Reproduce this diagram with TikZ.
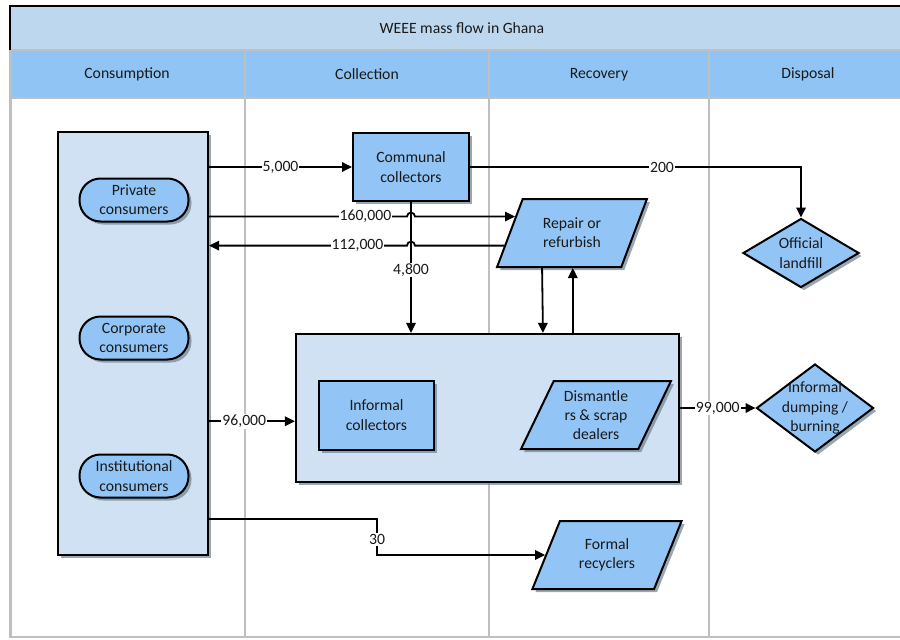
\documentclass[tikz,border=0pt]{standalone}
\usepackage{fontspec}
\setmainfont{Carlito}
\usetikzlibrary{arrows.meta,shapes.geometric,shadows,calc}
\definecolor{titlefill}{RGB}{189,215,238}
\definecolor{headfill}{RGB}{143,196,244}
\definecolor{grpfill}{RGB}{207,225,242}
\definecolor{nodefill}{RGB}{146,197,245}
\definecolor{lanegray}{RGB}{191,191,191}
\definecolor{shadowc}{RGB}{110,130,145}
\definecolor{ink}{RGB}{25,25,25}

\begin{document}
\begin{tikzpicture}[x=1pt,y=-1pt,
  every node/.style={font=\fontsize{15.7}{19.3}\selectfont, text=ink},
  lane/.style={draw=lanegray, line width=2pt},
  dshadow/.style={drop shadow={shadow xshift=3pt,shadow yshift=-3pt,fill=shadowc,opacity=.7}},
  grp/.style={rectangle, draw=black, line width=2.2pt, fill=grpfill, dshadow, inner sep=0pt},
  proc/.style={rectangle, draw=black, line width=2pt, fill=nodefill, dshadow,
    minimum width=116pt, minimum height=68pt, align=center, inner sep=0pt},
  pill/.style={rectangle, rounded corners=21pt, draw=black, line width=2pt, fill=nodefill, dshadow,
    minimum width=109pt, minimum height=43pt, align=center, inner sep=0pt},
  para/.style={trapezium, trapezium left angle=63.4, trapezium right angle=116.6,
    trapezium stretches=true, draw=black, line width=2pt, fill=nodefill, dshadow,
    minimum width=150pt, minimum height=68pt, align=center, inner sep=0pt},
  diam/.style={diamond, draw=black, line width=2pt, fill=nodefill, dshadow,
    minimum width=116pt, minimum height=69pt, inner sep=0pt},
  txt/.style={align=center, inner sep=0pt},
  flow/.style={draw=black, line width=1.8pt, -{Triangle[length=10pt,width=9.5pt]}},
  lbl/.style={fill=white, inner sep=1pt}
]
\useasboundingbox (0,0) rectangle (900,640);
\clip (0,0) rectangle (900,640);

% swimlane frame
\fill[white] (0,0) rectangle (900,640);
\fill[titlefill] (9,5) rectangle (912,50);
\fill[headfill] (9,50) rectangle (912,98);
\draw[lane] (9,50) -- (912,50);
\draw[lane] (9,98) -- (912,98);
\foreach \lx in {245,489,709} \draw[lane] (\lx,50) -- (\lx,637);
\draw[lane, line width=3pt] (10,50) -- (10,637);
\draw[lane] (9,637) -- (912,637);
\draw[black, line width=2pt] (9.5,50) -- (9.5,5.5) -- (912,5.5);

\node (title) at (462,28) {WEEE mass flow in Ghana};
\node (hcons) at (127,74.5) {Consumption};
\node (hcoll) at (367,74.5) {Collection};
\node (hrec)  at (599,74.5) {Recovery};
\node (hdisp) at (808,74.5) {Disposal};

% consumers
\node[grp, minimum width=150pt, minimum height=423pt] (cons) at (133,343.5) {};
\node[pill] (priv) at (134,200) {Private\\consumers};
\node[pill] (corp) at (134,338) {Corporate\\consumers};
\node[pill] (inst) at (134,476) {Institutional\\consumers};

% collection, recovery and disposal
\node[proc] (comm) at (411,167) {Communal\\collectors};
\node[para] (repair) at (572,233) {Repair or\\refurbish};
\node[diam] (land) at (801,253) {};
\node[txt] (landt) at (land) {Official\\landfill};

\node[grp, minimum width=383pt, minimum height=148pt] (inf) at (487.5,408) {};
\node[proc, minimum width=115pt, minimum height=69pt] (infc) at (376.5,415) {Informal\\collectors};
\node[para] (dism) at (596,415) {Dismantle\\rs \& scrap\\dealers};
\node[diam, minimum width=117pt, minimum height=88pt] (dump) at (815,408) {};
\node[txt] (dumpt) at (dump) {Informal\\dumping /\\burning};

\node[para] (formal) at (607,555) {Formal\\recyclers};

% flows
\draw[flow] (cons.east |- comm.west) -- node[lbl]{5,000} (comm.west);
\draw[flow] (comm.east) -| node[lbl, pos=0.29]{200} (land.north);

\coordinate (r1) at ($(repair.bottom left corner)!0.735!(repair.top left corner)$);
\draw[flow] (cons.east |- r1) -- node[lbl, pos=0.79]{160,000} ($(comm.south |- r1)+(-4,0)$)
  arc[start angle=180, end angle=0, radius=4pt] -- (r1);

\coordinate (r2) at ($(repair.bottom left corner)!0.32!(repair.top left corner)$);
\draw[flow] (r2) -- ($(comm.south |- r2)+(4,0)$)
  arc[start angle=0, end angle=180, radius=4pt] -- node[lbl, pos=0.25]{112,000} (cons.east |- r2);

\draw[flow] (comm.south) -- node[lbl, pos=0.52]{4,800} (comm.south |- inf.north);

\draw[flow] ($(repair.bottom left corner)!0.3675!(repair.bottom right corner)$)
  -- ($(inf.north west)!0.644!(inf.north east)$);
\coordinate (up) at ($(inf.north west)!0.7214!(inf.north east)$);
\draw[flow] (up) -- (up |- repair.bottom left corner);

\coordinate (r3) at ($(inf.north west)!0.588!(inf.south west)$);
\draw[flow] (cons.east |- r3) -- node[lbl, pos=0.41]{96,000} (r3);

\draw[flow] (inf.east) -- node[lbl]{99,000} (dump.west);

\coordinate (c30) at ($(cons.north east)!0.9125!(cons.south east)$);
\coordinate (r4) at ($(formal.bottom left corner)!0.5!(formal.top left corner)$);
\coordinate (mid) at ($(c30)!0.5!(r4)$);
\draw[flow] (c30) -- (c30 -| mid) -- node[lbl, pos=0.57]{30} (mid |- r4) -- (r4);
\end{tikzpicture}
\end{document}
